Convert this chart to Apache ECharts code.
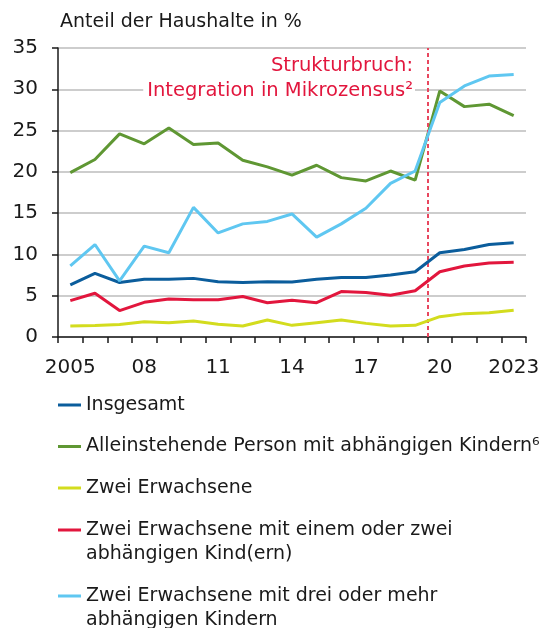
<!DOCTYPE html>
<html>
<head>
<meta charset="utf-8">
<script src="https://cdn.jsdelivr.net/npm/echarts@6/dist/echarts.min.js"></script>
<style>
  html, body { margin: 0; padding: 0; background: #fff; }
  #main { width: 551px; height: 628px; }
</style>
</head>
<body>
<div id="main"></div>
<script>
// Jahre und Werte (Anteil der Haushalte in %)
var years = ['2005', '2006', '2007', '2008', '2009', '2010', '2011', '2012', '2013', '2014',
  '2015', '2016', '2017', '2018', '2019', '2020', '2021', '2022', '2023']
var yearLabels = ['2005', '', '', '08', '', '', '11', '', '', '14', '', '', '17', '', '', '20', '', '', '2023']

var insgesamt = [6.3, 7.7, 6.6, 7.0, 7.0, 7.1, 6.7, 6.6, 6.7, 6.65, 7.0, 7.2, 7.2, 7.5, 7.9, 10.2, 10.6, 11.2, 11.4]
var alleinstehend = [19.9, 21.5, 24.6, 23.4, 25.3, 23.3, 23.5, 21.4, 20.6, 19.6, 20.8, 19.3, 18.9, 20.1, 19.0, 29.8, 27.9, 28.2, 26.8]
var zweiErw = [1.33, 1.4, 1.5, 1.85, 1.73, 1.95, 1.55, 1.33, 2.05, 1.41, 1.73, 2.05, 1.65, 1.33, 1.41, 2.46, 2.83, 2.95, 3.25]
var zweiErwEinZwei = [4.4, 5.3, 3.2, 4.2, 4.6, 4.5, 4.5, 4.9, 4.15, 4.45, 4.15, 5.5, 5.4, 5.05, 5.6, 7.9, 8.6, 8.95, 9.05]
var zweiErwDreiMehr = [8.6, 11.2, 6.8, 11.0, 10.2, 15.7, 12.6, 13.7, 14.0, 14.9, 12.1, 13.7, 15.6, 18.6, 20.1, 28.4, 30.4, 31.6, 31.8]

var seriesNames = [
  'Insgesamt',
  'Alleinstehende Person mit abhängigen Kindern⁶',
  'Zwei Erwachsene',
  'Zwei Erwachsene mit einem oder zwei\nabhängigen Kind(ern)',
  'Zwei Erwachsene mit drei oder mehr\nabhängigen Kindern'
]
var seriesColors = ['#0b5d9c', '#5f9733', '#d3dc1e', '#e2163d', '#5fc7f1']
var seriesData = [insgesamt, alleinstehend, zweiErw, zweiErwEinZwei, zweiErwDreiMehr]

// Strukturbruch zwischen 2019 und 2020 (Position auf der Hilfsachse)
var breakPos = 15

var font = 'DejaVu Sans'
var chart = echarts.init(document.getElementById('main'))

var series = seriesData.map(function(d, i) {
  return {
    name: seriesNames[i],
    type: 'line',
    data: d,
    symbol: 'none',
    z: i === 0 ? 7 : 3 + i,
    lineStyle: { color: seriesColors[i], width: 3 },
    itemStyle: { color: seriesColors[i] }
  }
})
series.push({
  type: 'line',
  xAxisIndex: 1,
  data: [],
  silent: true,
  markLine: {
    symbol: 'none',
    silent: true,
    label: { show: false },
    lineStyle: { color: '#e8475f', type: [4, 3], width: 2 },
    data: [{ xAxis: breakPos }]
  }
})

var legendText = { fontFamily: font, fontSize: 19, lineHeight: 24, color: '#1a1a1a' }

chart.setOption({
  animation: false,
  title: {
    text: 'Anteil der Haushalte in %',
    left: 55,
    top: 8,
    textStyle: { fontFamily: font, fontSize: 19, fontWeight: 'normal', color: '#1a1a1a' }
  },
  grid: { left: 58, right: 25, top: 48, bottom: 291 },
  xAxis: [{
    type: 'category',
    data: years,
    boundaryGap: true,
    axisLine: { lineStyle: { color: '#1a1a1a', width: 1.5 } },
    axisTick: { show: true, interval: 0, length: 6, lineStyle: { color: '#1a1a1a', width: 1.5 } },
    axisLabel: {
      interval: 0,
      margin: 21,
      fontFamily: font,
      fontSize: 20,
      color: '#1a1a1a',
      formatter: function(v, idx) { return yearLabels[idx] }
    }
  }, {
    type: 'value',
    min: 0,
    max: 19,
    show: false
  }],
  yAxis: {
    type: 'value',
    min: 0,
    max: 35,
    interval: 5,
    axisLine: { show: true, lineStyle: { color: '#1a1a1a', width: 1.5 } },
    axisTick: { show: true, length: 6, lineStyle: { color: '#1a1a1a', width: 1.5 } },
    splitLine: { lineStyle: { color: '#bdbdbd', width: 1.5 } },
    axisLabel: { margin: 20, fontFamily: font, fontSize: 20, color: '#1a1a1a' }
  },
  legend: [{
    orient: 'vertical',
    left: 58,
    top: 393,
    padding: 0,
    height: 200,
    itemWidth: 23,
    itemHeight: 3,
    itemGap: 17.5,
    icon: 'rect',
    data: seriesNames.slice(0, 3),
    textStyle: legendText
  }, {
    // zweizeilige Einträge: Linie auf Höhe der ersten Zeile
    orient: 'vertical',
    left: 58,
    top: 518,
    padding: 0,
    height: 200,
    itemWidth: 23,
    itemHeight: 48,
    itemGap: 18,
    icon: 'path://M0,10.5H23V13.5H0Z M0,0H0.01V0.01H0Z M23,48H22.99V47.99H23Z',
    data: seriesNames.slice(3),
    textStyle: legendText
  }],
  graphic: [{
    type: 'text',
    x: 415,
    y: 53,
    z: 10,
    style: {
      text: 'Strukturbruch:\nIntegration in Mikrozensus²',
      align: 'right',
      verticalAlign: 'top',
      fill: '#e2163d',
      font: '19.5px "' + font + '"',
      lineHeight: 25,
      backgroundColor: '#fff',
      padding: [0, 2, 0, 4]
    }
  }],
  series: series
})
</script>
</body>
</html>
